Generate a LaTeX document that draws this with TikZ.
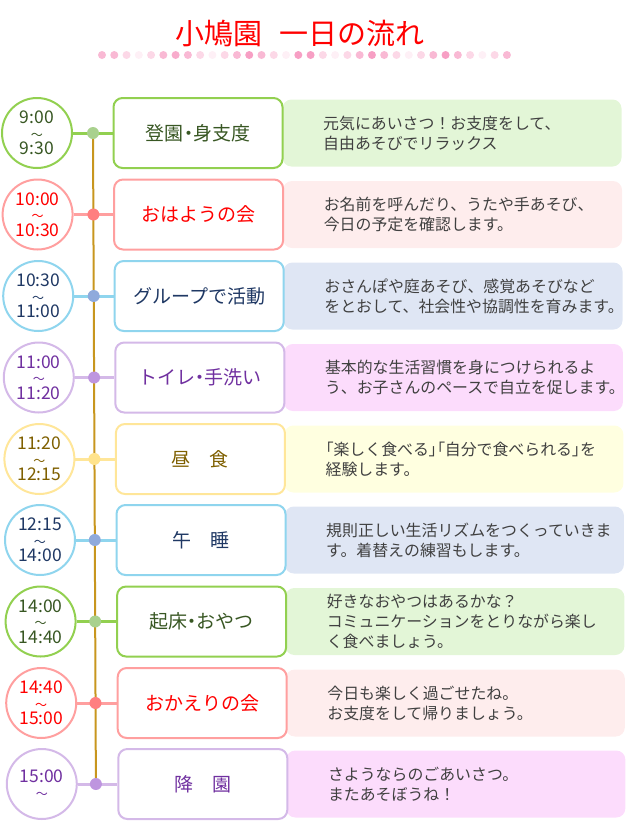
\documentclass[tikz,border=0pt]{standalone}
\usepackage{fontspec}
\setmainfont{Noto Sans CJK JP}
\usetikzlibrary{backgrounds}

\definecolor{grnline}{HTML}{92D050}
\definecolor{grndot}{HTML}{A9D18E}
\definecolor{grntext}{HTML}{385723}
\definecolor{grnfill}{HTML}{E3F6D7}
\definecolor{pnkline}{HTML}{FF9F9F}
\definecolor{pnkdot}{HTML}{FF7F80}
\definecolor{pnktext}{HTML}{FF0000}
\definecolor{pnkfill}{HTML}{FEEDED}
\definecolor{bluline}{HTML}{8FD5EE}
\definecolor{bludot}{HTML}{8FAADC}
\definecolor{blutext}{HTML}{1F3864}
\definecolor{blufill}{HTML}{DFE6F4}
\definecolor{purline}{HTML}{D4B9E8}
\definecolor{purdot}{HTML}{BE95DF}
\definecolor{purtext}{HTML}{7030A0}
\definecolor{purfill}{HTML}{FCDCFC}
\definecolor{ylwline}{HTML}{FFE699}
\definecolor{ylwdot}{HTML}{FFE38C}
\definecolor{ylwtext}{HTML}{7F6000}
\definecolor{ylwfill}{HTML}{FFFFE0}
\definecolor{spinegold}{HTML}{C8961E}
\definecolor{notegray}{HTML}{404040}
\definecolor{dotpink}{HTML}{F47FB0}

\newcommand{\tld}{{\fontsize{12}{15.5}\selectfont ～}}
\newcommand{\prop}[1]{{\addfontfeature{RawFeature=+palt}#1}}

\begin{document}
\begin{tikzpicture}[x=1pt,y=-1pt]
  \tikzstyle{timecircle}=[circle,draw,line width=2pt,fill=white,minimum size=70pt,inner sep=0pt,align=center,font=\fontsize{17.5}{15.5}\selectfont]
  \tikzstyle{joint}=[circle,minimum size=12pt,inner sep=0pt]
  \tikzstyle{stepname}=[rectangle,rounded corners=9pt,draw,line width=2pt,fill=white,minimum width=169pt,minimum height=70pt,font=\fontsize{19}{22}\selectfont]
  \tikzstyle{notebox}=[rectangle,rounded corners=9pt,minimum width=339pt,minimum height=67pt]
  \tikzstyle{notetext}=[anchor=west,align=left,inner sep=0pt,text=notegray,font=\fontsize{15.9}{20}\selectfont]
  \tikzstyle{link}=[line width=3pt]
  \useasboundingbox (0,0) rectangle (630,822);

  % title and dotted rule
  \node[text=pnktext,font=\fontsize{29}{30}\selectfont] (title) at (300,33) {小鳩園\hspace{0.6em}一日の流れ};
  \foreach \s [count=\k from 0] in {55,55,30,12,30,55,65,55,30,12,30,55,75,55,30,12,75,75,30,12,30,55,75,55,30,12,30,55,75,55,30,12,30,55}
    \fill[dotpink!\s] (102+\k*12.27,55) circle (4pt);

  % 9:00
  \node[notebox,fill=grnfill] (n1) at (452,133) {};
  \node[stepname,draw=grnline,text=grntext] (l1) at (198,133) {登園\prop{・}身支度};
  \node[timecircle,draw=grnline,text=grntext] (t1) at (37,133) {9:00\\\tld\\9:30};
  \node[joint,fill=grndot] (d1) at (93,133) {};
  \node[notetext] (s1) at (323,133) {元気にあいさつ！お支度をして、\\自由あそびでリラックス};

  % 10:00
  \node[notebox,fill=pnkfill] (n2) at (452.5,214.5) {};
  \node[stepname,draw=pnkline,text=pnktext] (l2) at (198.6,214.5) {おはようの会};
  \node[timecircle,draw=pnkline,text=pnktext] (t2) at (37.6,214.5) {10:00\\\tld\\10:30};
  \node[joint,fill=pnkdot] (d2) at (93.4,214.5) {};
  \node[notetext] (s2) at (323.6,214.5) {お名前を呼んだり、うたや手あそび、\\今日の予定を確認します。};

  % 10:30
  \node[notebox,fill=blufill] (n3) at (453,296) {};
  \node[stepname,draw=bluline,text=blutext] (l3) at (199.2,296) {グループで活動};
  \node[timecircle,draw=bluline,text=blutext] (t3) at (38.2,296) {10:30\\\tld\\11:00};
  \node[joint,fill=bludot] (d3) at (93.7,296) {};
  \node[notetext] (s3) at (324.2,296) {おさんぽや庭あそび、感覚あそびなど\\をとおして、社会性や協調性を育みます。};

  % 11:00
  \node[notebox,fill=purfill] (n4) at (453.4,377.5) {};
  \node[stepname,draw=purline,text=purtext] (l4) at (199.8,377.5) {トイレ\prop{・}手洗い};
  \node[timecircle,draw=purline,text=purtext] (t4) at (38.8,377.5) {11:00\\\tld\\11:20};
  \node[joint,fill=purdot] (d4) at (94.1,377.5) {};
  \node[notetext] (s4) at (324.8,377.5) {基本的な生活習慣を身につけられるよ\\う、お子さんのペースで自立を促します。};

  % 11:20
  \node[notebox,fill=ylwfill] (n5) at (453.9,459) {};
  \node[stepname,draw=ylwline,text=ylwtext] (l5) at (200.4,459) {昼　食};
  \node[timecircle,draw=ylwline,text=ylwtext] (t5) at (39.4,459) {11:20\\\tld\\12:15};
  \node[joint,fill=ylwdot] (d5) at (94.4,459) {};
  \node[notetext] (s5) at (325.4,459) {\prop{「}楽しく食べる\prop{」「}自分で食べられる\prop{」}を\\経験します。};

  % 12:15
  \node[notebox,fill=blufill] (n6) at (454.4,540) {};
  \node[stepname,draw=bluline,text=blutext] (l6) at (201,540) {午　睡};
  \node[timecircle,draw=bluline,text=blutext] (t6) at (40,540) {12:15\\\tld\\14:00};
  \node[joint,fill=bludot] (d6) at (94.8,540) {};
  \node[notetext] (s6) at (326,540) {規則正しい生活リズムをつくっていきま\\す。着替えの練習もします。};

  % 14:00
  \node[notebox,fill=grnfill] (n7) at (454.9,621.5) {};
  \node[stepname,draw=grnline,text=grntext] (l7) at (201.6,621.5) {起床\prop{・}おやつ};
  \node[timecircle,draw=grnline,text=grntext] (t7) at (40.6,621.5) {14:00\\\tld\\14:40};
  \node[joint,fill=grndot] (d7) at (95.2,621.5) {};
  \node[notetext] (s7) at (326.6,621.5) {好きなおやつはあるかな？\\コミュニケーションをとりながら楽し\\く食べましょう。};

  % 14:40
  \node[notebox,fill=pnkfill] (n8) at (455.3,703) {};
  \node[stepname,draw=pnkline,text=pnktext] (l8) at (202.2,703) {おかえりの会};
  \node[timecircle,draw=pnkline,text=pnktext] (t8) at (41.2,703) {14:40\\\tld\\15:00};
  \node[joint,fill=pnkdot] (d8) at (95.5,703) {};
  \node[notetext] (s8) at (327.2,703) {今日も楽しく過ごせたね。\\お支度をして帰りましょう。};

  % 15:00
  \node[notebox,fill=purfill] (n9) at (455.8,784) {};
  \node[stepname,draw=purline,text=purtext] (l9) at (202.8,784) {降　園};
  \node[timecircle,draw=purline,text=purtext] (t9) at (41.8,784) {15:00\\\tld};
  \node[joint,fill=purdot] (d9) at (95.9,784) {};
  \node[notetext] (s9) at (327.8,784) {さようならのごあいさつ。\\またあそぼうね！};

  % connectors under the dots
  \begin{scope}[on background layer]
    \draw[link,grnline] (t1) -- (l1);
    \draw[link,pnkline] (t2) -- (l2);
    \draw[link,bluline] (t3) -- (l3);
    \draw[link,purline] (t4) -- (l4);
    \draw[link,ylwline] (t5) -- (l5);
    \draw[link,bluline] (t6) -- (l6);
    \draw[link,grnline] (t7) -- (l7);
    \draw[link,pnkline] (t8) -- (l8);
    \draw[link,purline] (t9) -- (l9);
    \draw[spinegold,line width=2pt] (d1.center) -- (d9.center);
  \end{scope}
\end{tikzpicture}
\end{document}
